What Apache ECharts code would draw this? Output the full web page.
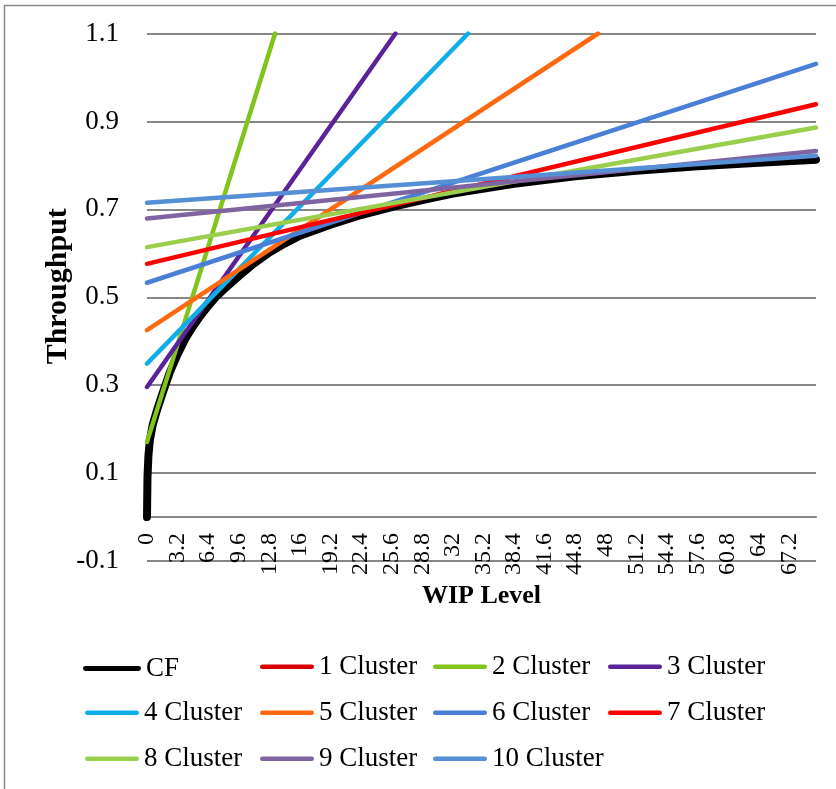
<!DOCTYPE html>
<html>
<head>
<meta charset="utf-8">
<script src="https://cdn.jsdelivr.net/npm/echarts@6/dist/echarts.min.js"></script>
<style>
  html, body { margin: 0; padding: 0; background: #fff; }
  #chart { width: 836px; height: 789px; }
</style>
</head>
<body>
<div id="chart"></div>
<script>
// ---- data ----
const seriesNames = ['CF', '1 Cluster', '2 Cluster', '3 Cluster', '4 Cluster', '5 Cluster',
  '6 Cluster', '7 Cluster', '8 Cluster', '9 Cluster', '10 Cluster'];
const colors = ['#000000', '#D80000', '#80C41C', '#5B2399', '#10AEE8', '#FF6A10',
  '#4A7FD8', '#FF0000', '#9ACF4E', '#8064A2', '#5590D6'];

// CF curve (WIP level, throughput)
const cfX = [0, 0.05, 0.15, 0.3, 0.6, 1, 1.6, 2.4, 3.2, 4, 4.8, 5.6, 6.4, 7.2, 8, 9.6, 11.2, 12.8,
  14.4, 16, 19.2, 22.4, 25.6, 28.8, 32, 38.4, 44.8, 51.2, 57.6, 64, 70];
const cfY = [0, 0.09, 0.14, 0.175, 0.21, 0.24, 0.28, 0.33, 0.37, 0.405, 0.433, 0.458, 0.48,
  0.5, 0.517, 0.548, 0.577, 0.602, 0.622, 0.64, 0.665, 0.687, 0.705, 0.721, 0.736, 0.758,
  0.775, 0.788, 0.798, 0.806, 0.813];

// cluster approximations: start and end points of each straight line
const cluster1 = [];
const cluster2 = [[0, 0.171], [13.4, 1.1]];
const cluster3 = [[0, 0.296], [26.0, 1.1]];
const cluster4 = [[0, 0.349], [33.6, 1.1]];
const cluster5 = [[0, 0.425], [47.2, 1.1]];
const cluster6 = [[0, 0.533], [70, 1.031]];
const cluster7 = [[0, 0.576], [70, 0.939]];
const cluster8 = [[0, 0.614], [70, 0.886]];
const cluster9 = [[0, 0.679], [70, 0.8325]];
const cluster10 = [[0, 0.715], [70, 0.822]];

// axes
const xMin = 0, xMax = 70, xStep = 3.2;
const yMin = -0.1, yMax = 1.1, yStep = 0.2;

// legend layout: columns of names
const legendCols = [
  ['CF'],
  ['4 Cluster', '8 Cluster'],
  ['1 Cluster', '5 Cluster', '9 Cluster'],
  ['2 Cluster', '6 Cluster', '10 Cluster'],
  ['3 Cluster', '7 Cluster']
];

// ---- chart ----
const FONT = "'Liberation Serif', 'Times New Roman', serif";
const cfData = cfX.map((x, i) => [x, cfY[i]]);
const clusterData = [cluster1, cluster2, cluster3, cluster4, cluster5, cluster6,
  cluster7, cluster8, cluster9, cluster10];

const series = seriesNames.map((name, i) => ({
  name: name,
  type: 'line',
  data: i === 0 ? cfData : clusterData[i - 1],
  showSymbol: false,
  symbol: 'none',
  smooth: false,
  clip: true,
  lineStyle: { color: colors[i], width: i === 0 ? 8 : 4.5, cap: 'round', join: 'round' },
  itemStyle: { color: colors[i] },
  emphasis: { disabled: true },
  z: 2
}));

// capsule-shaped legend icon
const capsule = 'path://M2.25,0L51.75,0A2.25,2.25,0,0,1,51.75,4.5L2.25,4.5A2.25,2.25,0,0,1,2.25,0Z';
const legendBox = [
  { left: 83, top: 662.5, w: 58, h: 8 },
  { left: 85, top: 708.5, w: 54, h: 4.5 },
  { left: 260, top: 662.5, w: 54, h: 4.5 },
  { left: 433, top: 662.5, w: 54, h: 4.5 },
  { left: 608, top: 662.5, w: 54, h: 4.5 }
];
const legends = legendCols.map((col, c) => ({
  orient: 'vertical',
  left: legendBox[c].left,
  top: legendBox[c].top - 13.5 + legendBox[c].h / 2 + 2,
  padding: 0,
  itemWidth: legendBox[c].w,
  itemHeight: legendBox[c].h,
  itemGap: 46 - 27,
  selectedMode: false,
  textStyle: { fontFamily: FONT, fontSize: 27, color: '#000', lineHeight: 27 },
  data: col.map(n => ({ name: n, icon: capsule }))
}));

const fmt = v => String(Math.round(v * 10) / 10);

const option = {
  animation: false,
  backgroundColor: '#fff',
  color: colors,
  grid: { left: 147, right: 20, top: 33.5, bottom: 228, containLabel: false },
  xAxis: {
    type: 'value',
    min: xMin, max: xMax, interval: xStep,
    name: 'WIP Level',
    nameLocation: 'middle',
    nameGap: 22,
    nameMoveOverlap: false,
    nameTextStyle: { fontFamily: FONT, fontSize: 26, fontWeight: 'bold', color: '#000' },
    axisLine: { show: true, onZero: true, lineStyle: { color: '#868686', width: 2 } },
    axisTick: { show: false },
    splitLine: { show: false },
    axisLabel: {
      rotate: 90, margin: -28, showMaxLabel: false,
      fontFamily: FONT, fontSize: 24, color: '#000',
      formatter: fmt
    }
  },
  yAxis: {
    type: 'value',
    min: yMin, max: yMax, interval: yStep,
    name: 'Throughput',
    nameLocation: 'middle',
    nameGap: 74,
    nameMoveOverlap: false,
    nameTextStyle: { fontFamily: FONT, fontSize: 30, fontWeight: 'bold', color: '#000',
      padding: [0, 0, 0, 22] },
    axisLine: { show: false },
    axisTick: { show: false },
    splitLine: { show: true, lineStyle: { color: '#868686', width: 2 } },
    axisLabel: {
      margin: 28, fontFamily: FONT, fontSize: 27, color: '#000',
      formatter: fmt
    }
  },
  legend: legends,
  graphic: [{
    type: 'rect',
    shape: { x: 4.5, y: 5.5, width: 900, height: 900 },
    style: { fill: 'none', stroke: '#868686', lineWidth: 1.5 },
    silent: true, z: -10
  }],
  series: series
};

const chart = echarts.init(document.getElementById('chart'), null, { renderer: 'canvas' });
chart.setOption(option);
</script>
</body>
</html>
